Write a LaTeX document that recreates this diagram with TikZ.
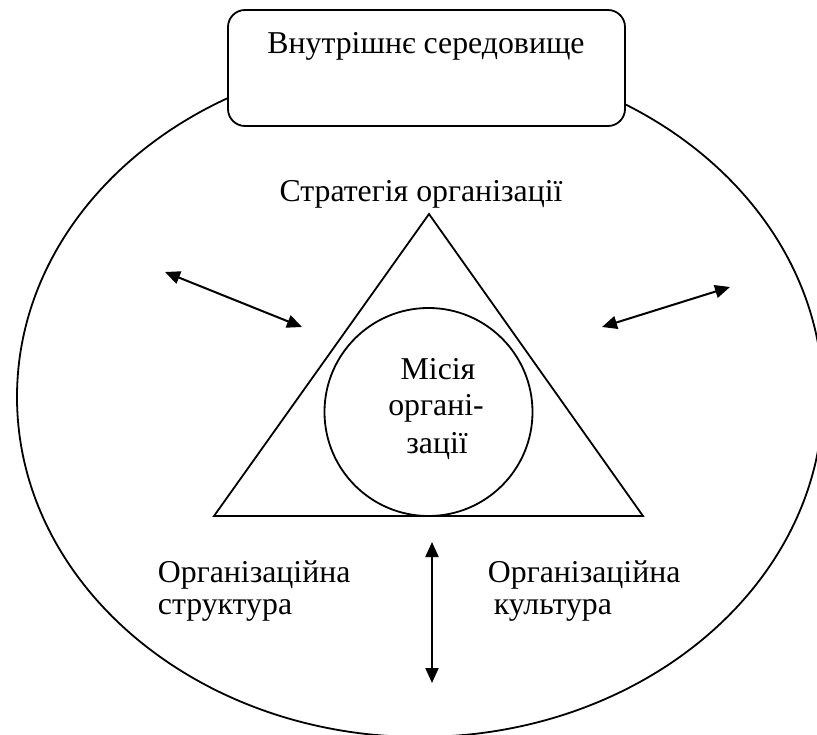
\documentclass[tikz,border=0pt]{standalone}
\usepackage{fontspec}
\setmainfont{Liberation Serif}
\usetikzlibrary{arrows.meta,shapes.geometric}
\begin{document}
\begin{tikzpicture}[x=1pt,y=-1pt,line width=1.8pt,
  lbl/.style={font=\fontsize{31.8}{37}\selectfont,inner sep=0pt},
  tip/.tip={Triangle[length=15pt,width=13pt]},
  dbl/.style={tip-tip,line width=2pt}]
\useasboundingbox (0,0) rectangle (817,735);

% outer environment (cut off by the page edge)
\begin{scope}
  \clip (0,0) rectangle (817,735);
  \node[draw,ellipse,minimum width=806,minimum height=680,inner sep=0pt] (env) at (420,397) {};
\end{scope}

% title box
\node[draw,fill=white,rounded corners=17pt,minimum width=397,minimum height=116,inner sep=0pt] (box) at (426.5,68) {};
\node[lbl,anchor=base] (boxtxt) at (426,54) {Внутрішнє середовище};

% strategy triangle
\coordinate (apex) at (429,214);
\coordinate (bl) at (214,516);
\coordinate (br) at (643,516);
\draw (apex) -- (bl) -- (br) -- cycle;
\node[lbl,anchor=base] (strat) at (421,202) {Стратегія організації};

% mission circle
\node[draw,circle,minimum size=208,inner sep=0pt] (mission) at (428.5,412) {};
\node[lbl,anchor=base] (m1) at (438,380) {Місія};
\node[lbl,anchor=base] (m2) at (436,416) {органі-};
\node[lbl,anchor=base] (m3) at (437,453) {зації};

% structure and culture labels
\node[lbl,anchor=base west] (s1) at (157,582) {Організаційна};
\node[lbl,anchor=base west] (s2) at (157,614) {структура};
\node[lbl,anchor=base west] (c1) at (487,582) {Організаційна};
\node[lbl,anchor=base west] (c2) at (493,614) {культура};

% interaction arrows
\coordinate (la) at (165,272);
\coordinate (lb) at (302,327);
\coordinate (ra) at (602,327);
\coordinate (rb) at (730,287);
\coordinate (va) at (432,542);
\coordinate (vb) at (432,683);
\draw[dbl] (la) -- (lb);
\draw[dbl] (ra) -- (rb);
\draw[dbl] (va) -- (vb);
\end{tikzpicture}
\end{document}
